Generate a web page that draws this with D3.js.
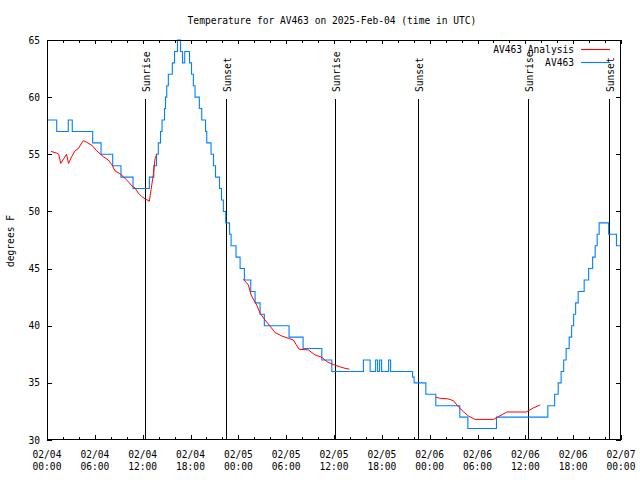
<!DOCTYPE html>
<html>
<head>
<meta charset="utf-8">
<script src="https://cdn.jsdelivr.net/npm/d3@7"></script>
<style>
html,body{margin:0;padding:0;background:#fff;}
svg text{font-family:"DejaVu Sans Mono","Liberation Mono",monospace;font-size:9.6px;fill:#000;}
</style>
</head>
<body>
<svg id="chart" width="640" height="480"></svg>
<script>
// ---- data (hours since 2025-02-04 00:00 UTC) ----
const titleText = "Temperature for AV463 on 2025-Feb-04 (time in UTC)";
const yLabel = "degrees F";
const seriesNames = ["AV463 Analysis", "AV463"];

const stationHours = [0,1.22,2.67,3.17,5.73,6.78,8.24,9.28,10.79,12.84,13.40,13.74,13.96,14.24,14.43,14.74,14.87,15.02,15.22,15.72,16.00,16.37,16.75,17.00,17.28,17.88,18.13,18.36,18.57,19.11,19.41,19.89,20.04,20.58,20.89,21.14,21.64,21.89,22.12,22.42,22.90,23.09,23.71,24.22,24.76,25.56,26.10,26.73,27.26,30.36,32.12,34.47,35.72,39.69,40.53,41.22,41.47,41.72,41.97,42.85,43.10,45.86,46.05,47.52,48.77,51.78,52.79,56.38,62.82,63.68,64.12,64.49,64.81,65.12,65.50,65.81,66.06,66.31,66.63,67.38,67.94,68.44,68.76,69.01,69.26,70.45,71.43,71.89];
const stationTemps = [58,57,58,57,56,55,54,53,52,53,54,55,56,57,58,59,60,61,62,63,64,65,64,63,64,63,62,61,60,59,58,57,56,55,54,53,52,51,50,49,48,47,46,45,44,43,42,41,40,39,38,37,36,37,36,37,36,37,36,37,36,35.5,35,34,33,32,31,32,33,34,35,36,37,38,39,40,41,42,43,44,45,46,47,48,49,48,47,47];

const analysisHours = [0.50,1.22,1.47,1.72,2.13,2.45,2.70,3.10,3.51,3.93,4.55,4.98,5.61,6.24,6.65,7.06,7.69,8.12,8.53,9.16,9.57,10.20,10.70,11.04,11.46,11.88,12.30,12.84,13.05,13.34,13.55,13.76,
  18.0,
  24.63,25.26,25.60,26.31,26.73,27.35,27.77,28.61,29.45,30.28,30.90,31.62,32.79,33.63,34.47,35.09,35.92,36.76,37.39,37.93,
  43.0,
  48.77,49.31,50.28,50.98,51.61,52.23,52.86,53.70,56.00,56.62,57.68,60.10,60.98,61.86];
const analysisTemps = [55.25,55.1,55.0,54.2,54.65,55.0,54.2,54.8,55.3,55.5,56.2,56.05,55.8,55.3,55.05,54.8,54.5,54.1,53.55,53.3,53.05,52.6,52.2,52.05,51.6,51.3,51.1,50.9,51.9,53.2,54.6,55.0,
  null,
  44.06,43.56,42.69,41.8,41.1,40.5,40.15,39.4,39.1,38.9,38.75,37.94,37.88,37.44,37.24,36.86,36.6,36.4,36.27,36.2,
  null,
  33.74,33.65,33.6,33.44,32.9,32.48,32.1,31.8,31.8,32.04,32.45,32.45,32.8,33.07];

const sunHours = [12.23, 22.46, 36.17, 46.59, 60.31, 70.55];
const sunLabels = ["Sunrise","Sunset","Sunrise","Sunset","Sunrise","Sunset"];
const yTicks = [30,35,40,45,50,55,60,65];
const xDomainHours = [0, 72];

const colors = {analysis:"#ff0000", station:"#0080ff"};

// ---- drawing ----
const start = Date.UTC(2025,1,4,0,0,0);
const toDate = h => new Date(start + h*3600000);

const svg = d3.select("#chart");
const L = 47, R = 621, T = 40, B = 440;

const x = d3.scaleUtc().domain(xDomainHours.map(toDate)).range([L, R]);
const y = d3.scaleLinear().domain([30, 65]).range([B, T]);

// title
svg.append("text").attr("x", 332).attr("y", 23.5).attr("text-anchor","middle").text(titleText);

// y label
svg.append("text").attr("transform","translate(14,241) rotate(-90)").attr("text-anchor","middle").text(yLabel);

// axes ticks
const majorTicks = d3.utcHour.every(6).range(toDate(0), toDate(72.01));
const minorTicks = d3.utcHour.every(2).range(toDate(0), toDate(72.01));

svg.append("g").attr("transform",`translate(0,${B})`)
  .call(d3.axisBottom(x).tickValues(minorTicks).tickSize(-3).tickFormat(""))
  .call(g=>g.select(".domain").remove());
svg.append("g").attr("transform",`translate(0,${B})`)
  .call(d3.axisBottom(x).tickValues(majorTicks).tickSize(-5).tickFormat(""))
  .call(g=>g.select(".domain").remove());
svg.append("g").attr("transform",`translate(0,${T})`)
  .call(d3.axisTop(x).tickValues(minorTicks).tickSize(-3).tickFormat(""))
  .call(g=>g.select(".domain").remove());
svg.append("g").attr("transform",`translate(0,${T})`)
  .call(d3.axisTop(x).tickValues(majorTicks).tickSize(-4).tickFormat(""))
  .call(g=>g.select(".domain").remove());
svg.append("g").attr("transform",`translate(${L},0)`)
  .call(d3.axisLeft(y).tickValues(yTicks).tickSize(-5).tickFormat(""))
  .call(g=>g.select(".domain").remove());
svg.append("g").attr("transform",`translate(${R},0)`)
  .call(d3.axisRight(y).tickValues(yTicks).tickSize(-5).tickFormat(""))
  .call(g=>g.select(".domain").remove());
svg.selectAll(".tick line").attr("stroke","#000").attr("shape-rendering","crispEdges");

// x tick labels
const fmtD = d3.utcFormat("%m/%d"), fmtT = d3.utcFormat("%H:%M");
const xl = svg.append("g");
majorTicks.forEach(d=>{
  const t = xl.append("text").attr("text-anchor","middle");
  t.append("tspan").attr("x", x(d)).attr("y", 458).text(fmtD(d));
  t.append("tspan").attr("x", x(d)).attr("y", 470).text(fmtT(d));
});
// y tick labels
svg.append("g").selectAll("text").data(yTicks).join("text")
  .attr("x", 40).attr("y", d=>y(d)+3.5).attr("text-anchor","end").text(d=>d);

// clip
svg.append("clipPath").attr("id","clip").append("rect")
  .attr("x",L).attr("y",T-1).attr("width",R-L).attr("height",B-T+1);

// sun lines
const sunG = svg.append("g");
sunHours.forEach((h,i)=>{
  const sx = Math.round(x(toDate(h)))+0.5;
  sunG.append("line").attr("x1",sx).attr("x2",sx).attr("y1",99).attr("y2",B)
    .attr("stroke","#000").attr("stroke-width",1);
  sunG.append("text").attr("transform",`translate(${sx+4},92) rotate(-90)`)
    .attr("text-anchor","start").text(sunLabels[i]);
});

// series
const stationData = stationHours.map((h,i)=>({t:toDate(h), v:stationTemps[i]}));
const analysisData = analysisHours.map((h,i)=>({t:toDate(h), v:analysisTemps[i]}));

const plot = svg.append("g").attr("clip-path","url(#clip)");
plot.append("path").datum(stationData)
  .attr("fill","none").attr("stroke",colors.station).attr("stroke-width",1.1)
  .attr("d", d3.line().x(d=>x(d.t)).y(d=>y(d.v)).curve(d3.curveStepAfter));
plot.append("path").datum(analysisData)
  .attr("fill","none").attr("stroke",colors.analysis).attr("stroke-width",1.0)
  .attr("d", d3.line().defined(d=>d.v!==null).x(d=>x(d.t)).y(d=>y(d.v)));

// frame
svg.append("rect").attr("x",L+0.5).attr("y",T+0.5).attr("width",R-L-1).attr("height",B-T-1)
  .attr("fill","none").attr("stroke","#000").attr("stroke-width",1);

// legend
const leg = svg.append("g");
[["AV463 Analysis",colors.analysis,49.5],["AV463",colors.station,62.5]].forEach(([n,c,ly])=>{
  leg.append("text").attr("x",574).attr("y",ly+3.5).attr("text-anchor","end").text(n);
  leg.append("line").attr("x1",581).attr("x2",610).attr("y1",ly).attr("y2",ly)
    .attr("stroke",c).attr("stroke-width",1.1);
});
</script>
</body>
</html>
